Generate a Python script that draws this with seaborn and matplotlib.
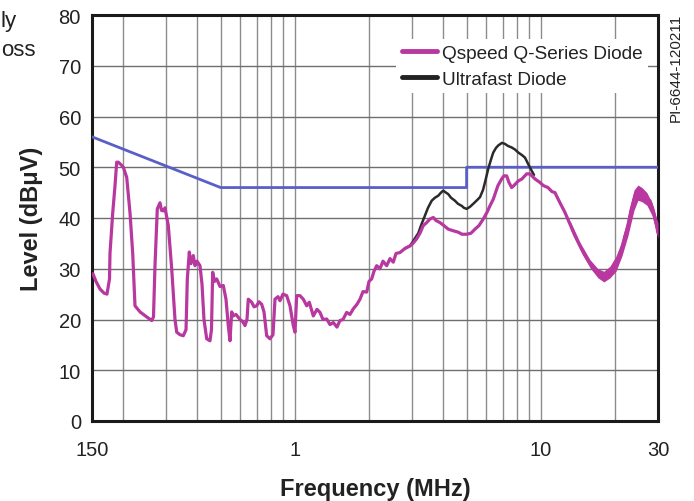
import numpy as np
import pandas as pd
import matplotlib
matplotlib.use("Agg")
import matplotlib.pyplot as plt
import seaborn as sns
from matplotlib.lines import Line2D

# ---------------- data ----------------
# Qspeed Q-Series diode conducted EMI (MHz, dBuV)
qspeed_freq = [0.1514, 0.1557, 0.1617, 0.1679, 0.1726, 0.1767, 0.1775, 0.1821, 0.1860, 0.1890,
               0.1919, 0.1968, 0.2011, 0.2076, 0.2141, 0.2196, 0.2243, 0.2351, 0.2504, 0.2624,
               0.2667, 0.2705, 0.2764, 0.2835, 0.2875, 0.2924, 0.2971, 0.3018, 0.3064, 0.3163,
               0.3262, 0.3315, 0.3419, 0.3526, 0.3617, 0.3661, 0.3730, 0.3790, 0.3872, 0.3934,
               0.4009, 0.4122, 0.4200, 0.4279, 0.4389, 0.4526, 0.4590, 0.4642, 0.4721, 0.4819,
               0.4971, 0.5127, 0.5258, 0.5372, 0.5459, 0.5546, 0.5630, 0.5774, 0.5994, 0.6165,
               0.6281, 0.6400, 0.6478, 0.6688, 0.6834, 0.7008, 0.7161, 0.7344, 0.7504, 0.7696,
               0.7938, 0.8164, 0.8318, 0.8555, 0.8716, 0.8964, 0.9280, 0.9572, 0.9872, 1.0031,
               1.0191, 1.0511, 1.0841, 1.1193, 1.1468, 1.1906, 1.2324, 1.2676, 1.3037, 1.3496,
               1.3919, 1.4356, 1.4860, 1.5284, 1.5719, 1.6272, 1.6785, 1.7312, 1.7922, 1.8432,
               1.8957, 1.9625, 2.0052, 2.0564, 2.1012, 2.1549, 2.2226, 2.2859, 2.3664, 2.4407,
               2.5173, 2.5817, 2.6802, 2.8085, 2.9430, 3.0267, 3.1334, 3.2316, 3.3330, 3.4410,
               3.5490, 3.6605, 3.7541, 3.8970, 4.0455, 4.2117, 4.4013, 4.6251, 4.7882, 5.0036,
               5.2089, 5.4074, 5.6136, 5.8443, 6.0503, 6.2226, 6.4179, 6.5210, 6.7068, 6.9431,
               7.0943, 7.2756, 7.4340, 7.6244, 7.7904, 8.1105, 8.3964, 8.7741, 9.0495, 9.4827,
               9.9369, 10.249, 10.710, 11.119, 11.435, 11.983, 12.556, 13.158, 13.787, 14.449,
               15.141, 15.867, 16.626, 17.422, 17.968, 18.429, 19.131, 20.046, 20.617, 21.344,
               22.017, 22.707, 23.290, 24.179, 24.938, 25.577, 26.133, 27.054, 27.823, 28.695,
               29.623, 30.0]
qspeed_db = [29.0, 27.5, 26.0, 25.2, 25.0, 28.0, 33.0, 41.0, 46.3, 51.0,
             51.0, 50.5, 50.0, 48.0, 41.0, 33.0, 22.7, 21.5, 20.5, 19.8,
             20.5, 30.6, 41.8, 43.0, 41.5, 41.4, 42.0, 40.2, 38.5, 30.0,
             20.0, 17.5, 17.0, 16.8, 18.0, 28.0, 33.3, 31.0, 32.6, 30.6,
             31.5, 30.6, 27.0, 20.0, 16.2, 15.8, 18.0, 29.3, 27.5, 28.0,
             26.5, 26.7, 24.0, 18.8, 15.8, 21.5, 20.7, 21.0, 20.0, 19.5,
             18.8, 20.0, 24.0, 23.4, 22.5, 22.7, 23.5, 23.0, 21.5, 16.8,
             16.2, 17.0, 24.0, 24.5, 23.7, 25.0, 24.7, 22.7, 18.8, 17.5,
             24.7, 24.7, 24.0, 22.7, 23.4, 20.7, 22.0, 21.4, 20.0, 20.1,
             19.0, 19.4, 18.5, 19.8, 20.0, 21.4, 21.0, 22.1, 23.0, 24.0,
             25.5, 25.4, 27.5, 28.0, 29.5, 30.6, 30.0, 31.5, 30.6, 32.0,
             31.3, 33.0, 33.2, 34.0, 34.5, 35.0, 35.9, 37.0, 38.5, 39.1,
             39.8, 40.1, 39.5, 39.1, 38.5, 37.8, 37.5, 37.2, 36.8, 36.8,
             37.0, 37.8, 38.5, 39.8, 41.1, 42.4, 43.7, 44.7, 46.4, 47.7,
             48.3, 48.3, 47.0, 46.0, 46.4, 47.3, 47.7, 48.7, 48.7, 47.7,
             47.0, 46.4, 46.0, 45.2, 45.0, 43.0, 41.1, 38.8, 36.5, 34.5,
             32.6, 31.0, 29.6, 28.8, 28.3, 28.3, 29.3, 30.0, 31.5, 33.9,
             36.5, 38.5, 41.5, 44.4, 45.7, 45.2, 44.4, 43.7, 43.4, 41.5,
             38.5, 37.0]

# spread of the Qspeed trace above 13 MHz (lower / upper envelope)
band_freq = [13.16, 14.45, 15.87, 17.10, 18.08, 19.13, 20.24, 21.40, 22.64, 23.95,
             24.87, 25.82, 27.05, 28.35, 30.0]
band_lo = [38.0, 33.8, 30.2, 28.2, 27.4, 28.2, 29.5, 32.5, 36.5, 41.5,
           43.5, 43.2, 42.5, 40.5, 36.0]
band_hi = [39.5, 35.2, 31.8, 30.0, 29.5, 30.5, 32.5, 35.5, 40.5, 45.5,
           46.5, 46.0, 45.0, 43.0, 39.0]

# Ultrafast diode (visible part, elsewhere under the Qspeed trace)
ultra_freq = [2.8085, 2.9430, 3.084, 3.181, 3.262, 3.387, 3.483, 3.606, 3.719, 3.836,
              3.934, 4.019, 4.122, 4.212, 4.320, 4.485, 4.612, 4.775, 4.879, 5.004,
              5.160, 5.322, 5.510, 5.667, 5.828, 5.938, 6.124, 6.281, 6.418, 6.582,
              6.726, 6.962, 7.161, 7.365, 7.624, 7.864, 8.111, 8.396, 8.636, 8.906,
              9.195, 9.395]
ultra_db = [34.0, 34.5, 36.0, 37.0, 38.5, 40.5, 42.0, 43.4, 44.0, 44.4,
            45.0, 45.4, 45.0, 44.7, 44.0, 43.4, 42.8, 42.4, 42.0, 41.8,
            42.2, 42.8, 43.5, 44.1, 45.5, 47.0, 49.7, 51.5, 52.9, 53.8,
            54.3, 54.8, 54.6, 54.2, 53.9, 53.5, 52.9, 52.4, 51.9, 50.6,
            49.3, 48.5]

# limit line
limit_freq = [0.15, 0.5, 5.0, 5.0, 30.0]
limit_db = [56.0, 46.0, 46.0, 50.0, 50.0]

x_ticks = [0.15, 1, 10, 30]
x_tick_labels = ["150", "1", "10", "30"]
x_grid = [0.2, 0.3, 0.4, 0.5, 0.6, 0.7, 0.8, 0.9, 2, 3, 4, 5, 6, 7, 8, 9, 20]
y_ticks = [0, 10, 20, 30, 40, 50, 60, 70, 80]

series_names = ["Qspeed Q-Series Diode", "Ultrafast Diode"]

# ---------------- drawing ----------------
sns.set_theme(style="white")
plt.rcParams["font.family"] = ["Liberation Sans", "DejaVu Sans"]

MAG = "#b8389f"
BLUE = "#5a5fc8"
TXT = "#222222"

fig = plt.figure(figsize=(6.94, 5.02), dpi=100)
ax = fig.add_axes([92 / 694, 80 / 502, 566 / 694, 406 / 502])

ax.set_xscale("log")
ax.set_xlim(0.15, 30)
ax.set_ylim(0, 80)

# grid
ax.set_xticks(x_ticks)
ax.set_xticklabels(x_tick_labels)
ax.set_xticks(x_grid, minor=True)
ax.set_xticklabels([], minor=True)
ax.set_yticks(y_ticks)
ax.grid(True, which="both", axis="x", color="#8c8c8c", lw=1.0)
ax.grid(True, which="major", axis="y", color="#6e6e6e", lw=1.0)
ax.set_axisbelow(True)
ax.tick_params(which="both", length=0, labelsize=14.5, colors=TXT)
ax.tick_params(axis="x", pad=14)
ax.tick_params(axis="y", pad=8)

ultra_df = pd.DataFrame({"f": ultra_freq, "db": ultra_db})
q_df = pd.DataFrame({"f": qspeed_freq, "db": qspeed_db})
lim_df = pd.DataFrame({"f": limit_freq, "db": limit_db})

sns.lineplot(data=lim_df, x="f", y="db", ax=ax, color=BLUE, lw=2.0,
             estimator=None, sort=False, zorder=3)
sns.lineplot(data=ultra_df, x="f", y="db", ax=ax, color="#2a2a2a", lw=1.8,
             estimator=None, sort=False, zorder=4)
sns.lineplot(data=q_df, x="f", y="db", ax=ax, color=MAG, lw=2.3,
             estimator=None, sort=False, zorder=5)
ax.fill_between(band_freq, band_lo, band_hi, color=MAG, lw=0, zorder=5)

for s in ax.spines.values():
    s.set_color("#1a1a1a")
    s.set_linewidth(2.2)

ax.set_xlabel("Frequency (MHz)", fontsize=17, fontweight="bold", labelpad=13,
              color=TXT)
ax.set_ylabel("Level (dBμV)", fontsize=17, fontweight="bold", labelpad=11,
              color=TXT)

# legend
handles = [Line2D([], [], color=MAG, lw=3.5), Line2D([], [], color=TXT, lw=3.5)]
leg = ax.legend(handles, series_names, loc="upper right", bbox_to_anchor=(1.0, 0.965),
                fontsize=13.7, frameon=True, facecolor="white", edgecolor="none",
                framealpha=1.0, handlelength=1.85, handletextpad=0.25,
                labelspacing=0.45, borderpad=0.3, fancybox=False)
for t in leg.get_texts():
    t.set_color(TXT)

# side annotations
fig.text(676 / 694, 1 - 68 / 502, "PI-6644-120211", rotation=90, ha="center",
         va="center", fontsize=11, color=TXT)
fig.text(1 / 694, 1 - 22 / 502, "ly", ha="left", va="center", fontsize=16,
         color=TXT)
fig.text(1 / 694, 1 - 51 / 502, "oss", ha="left", va="center", fontsize=16,
         color=TXT)

fig.savefig("out.png", dpi=100)
